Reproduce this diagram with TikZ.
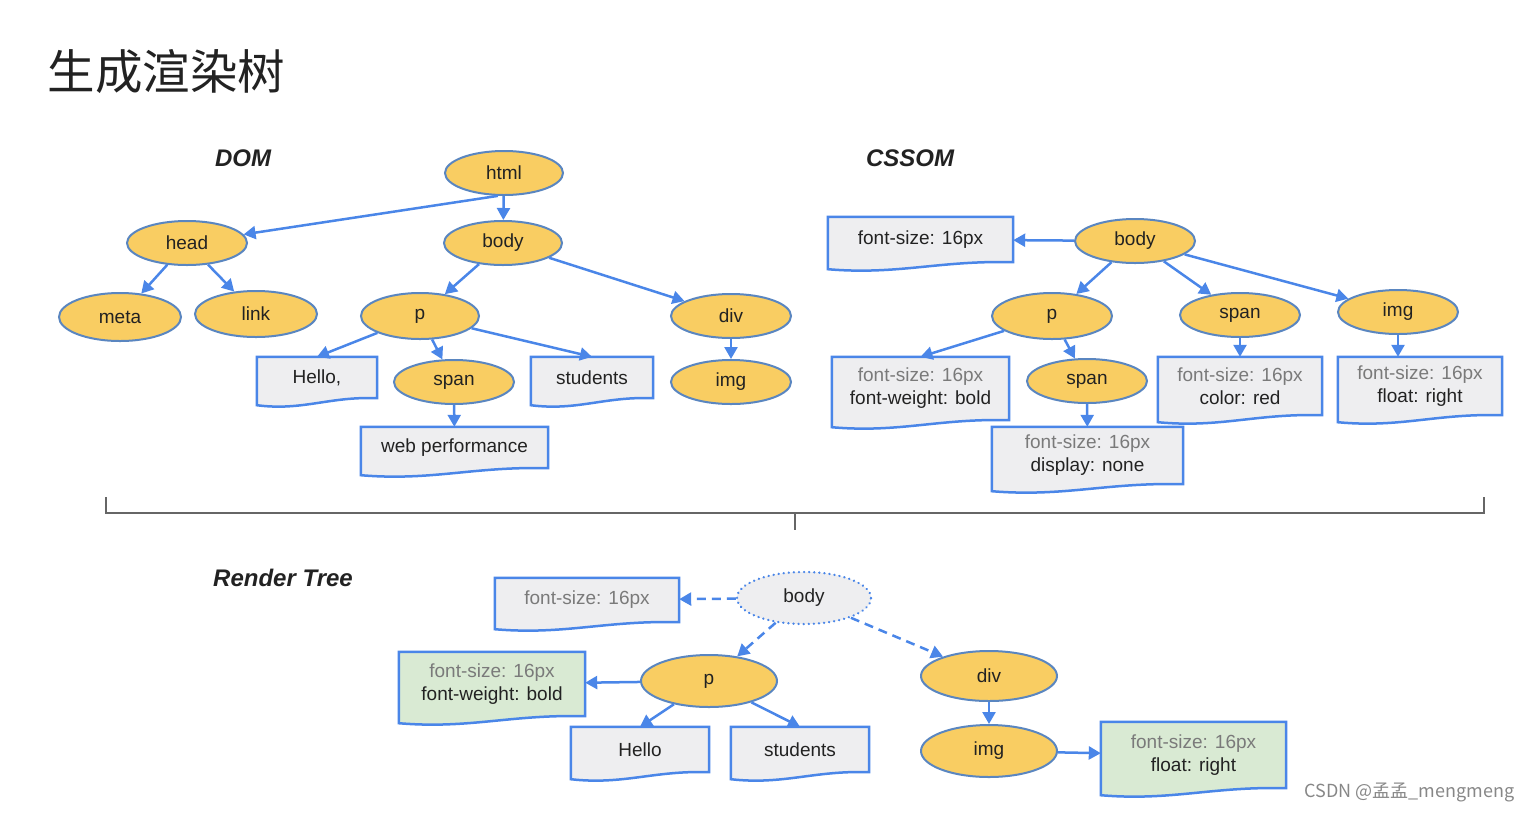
\documentclass[tikz,border=0pt]{standalone}
\usepackage{fontspec}
\setmainfont{Liberation Sans}
\newfontfamily\cjk{Noto Sans CJK SC}
\usetikzlibrary{shapes.geometric,arrows.meta,calc,backgrounds}
\definecolor{ellfill}{HTML}{F9CD62}
\definecolor{elldraw}{HTML}{5A86C0}
\definecolor{bluel}{HTML}{4A86E8}
\definecolor{boxfill}{HTML}{EEEEF0}
\definecolor{greenfill}{HTML}{D9EAD3}
\definecolor{txt}{HTML}{222222}
\definecolor{graytxt}{HTML}{7A7A7A}
\definecolor{bracecol}{HTML}{666666}
\newcommand\nfnt{\fontsize{19}{23}\selectfont}
\newcommand\docshape[2]{%
  \path[draw=bluel, line width=2.5pt, fill=#2, line join=miter]
    (#1.north west) -- (#1.north east) -- (#1.south east)
    .. controls ($(#1.south east)!0.4!(#1.south west)+(0,-2)$)
    and ($(#1.south east)!0.62!(#1.south west)+(0,13)$)
    .. ($(#1.south west)+(0,7)$) -- cycle;}
\tikzset{
  ell/.style={ellipse, draw=elldraw, fill=ellfill, line width=2pt, inner sep=0pt,
    minimum width=120pt, minimum height=44pt, font=\nfnt, text=txt},
  docbox/.style={rectangle, inner sep=0pt, font=\nfnt, text=txt, align=center},
  arr/.style={draw=bluel, line width=2.5pt, -{Triangle[length=12pt,width=13pt]}},
  darr/.style={arr, dash pattern=on 9pt off 6pt},
  sect/.style={font=\fontsize{24}{28}\selectfont\bfseries\itshape, text=txt},
  gl/.style={text=graytxt}
}
\begin{document}
\begin{tikzpicture}[x=1pt,y=-1pt]
\useasboundingbox (0,0) rectangle (1532,812);
% title
\node[anchor=west, font=\cjk\fontsize{47.5}{52}\selectfont, text=txt] (title) at (44,72) {生成渲染树};
% section labels
\node[sect] (ldom) at (243,158) {DOM};
\node[sect] (lcssom) at (910,158) {CSSOM};
\node[sect] (lrender) at (283,578) {Render Tree};

% ---------- DOM ----------
\node[ell, minimum width=118pt] (html) at (504,173) {html};
\node[ell] (head) at (187,243) {head};
\node[ell, minimum width=118pt] (body) at (503,243) {body};
\node[ell, minimum width=122pt, minimum height=48pt] (meta) at (120,317) {meta};
\node[ell, minimum width=122pt, minimum height=46pt] (link) at (256,314) {link};
\node[ell, minimum width=118pt, minimum height=46pt] (p) at (420,316) {p};
\node[ell] (div) at (731,316) {div};
\node[ell] (span) at (454,382) {span};
\node[ell] (img) at (731,382) {img};
\node[docbox, minimum width=120pt, minimum height=41pt] (hello) at (317,377.5) {Hello,};
\node[docbox, minimum width=122pt, minimum height=41pt] (students) at (592,377.5) {students};
\node[docbox, minimum width=187pt, minimum height=41pt] (web) at (454.5,447.5) {web performance};

% ---------- CSSOM ----------
\node[ell] (cbody) at (1135,241) {body};
\node[ell, minimum height=46pt] (cp) at (1052,316) {p};
\node[ell] (cspan) at (1240,315) {span};
\node[ell] (cimg) at (1398,312) {img};
\node[ell] (cspantwo) at (1087,381) {span};
\node[docbox, minimum width=185pt, minimum height=45pt] (cfs) at (920.5,239.5) {font-size: 16px};
\node[docbox, minimum width=177pt, minimum height=63pt] (cbold) at (920.5,388.5) {{\color{graytxt}font-size: 16px}\\font-weight: bold};
\node[docbox, minimum width=164pt, minimum height=58pt] (ccolor) at (1240,386) {{\color{graytxt}font-size: 16px}\\color: red};
\node[docbox, minimum width=164pt, minimum height=58pt] (cfloat) at (1420,386) {{\color{graytxt}font-size: 16px}\\float: right};
\node[docbox, minimum width=191pt, minimum height=57pt] (cdisp) at (1087.5,455.5) {{\color{graytxt}font-size: 16px}\\display: none};

% ---------- Render Tree ----------
\node[ellipse, draw=bluel, fill=boxfill, line width=2.5pt, dash pattern=on 0.1pt off 5pt, line cap=round,
      inner sep=0pt, minimum width=134pt, minimum height=52pt, font=\nfnt, text=txt] (rbody) at (804,598) {body};
\node[ell, minimum width=136pt, minimum height=52pt] (rp) at (709,681) {p};
\node[ell, minimum width=136pt, minimum height=50pt] (rdiv) at (989,676) {div};
\node[ell, minimum width=136pt, minimum height=52pt] (rimg) at (989,751) {img};
\node[docbox, minimum width=184pt, minimum height=44pt, text=graytxt] (rfs) at (587,600) {font-size: 16px};
\node[docbox, minimum width=186pt, minimum height=64pt] (rbold) at (492,684) {{\color{graytxt}font-size: 16px}\\font-weight: bold};
\node[docbox, minimum width=138pt, minimum height=45pt] (rhello) at (640,749.5) {Hello};
\node[docbox, minimum width=138pt, minimum height=45pt] (rstud) at (800,749.5) {students};
\node[docbox, minimum width=185pt, minimum height=66pt] (rfloat) at (1193.5,755) {{\color{graytxt}font-size: 16px}\\float: right};

% watermark
\node[anchor=east, font=\cjk\fontsize{18}{21}\selectfont, text=graytxt!90] (wm) at (1518,792) {CSDN @孟孟\_mengmeng};

% document shapes in background
\begin{pgfonlayer}{background}
\docshape{hello}{boxfill}
\docshape{students}{boxfill}
\docshape{web}{boxfill}
\docshape{cfs}{boxfill}
\docshape{cbold}{boxfill}
\docshape{ccolor}{boxfill}
\docshape{cfloat}{boxfill}
\docshape{cdisp}{boxfill}
\docshape{rfs}{boxfill}
\docshape{rbold}{greenfill}
\docshape{rhello}{boxfill}
\docshape{rstud}{boxfill}
\docshape{rfloat}{greenfill}
\end{pgfonlayer}

% ---------- DOM arrows ----------
\draw[arr] (html.255) -- (head);
\draw[arr] (html) -- (body);
\draw[arr] (head) -- (meta);
\draw[arr] (head) -- (link);
\draw[arr] (body) -- (p);
\draw[arr] (body) -- (div);
\draw[arr] (p) -- (hello.north);
\draw[arr] (p) -- (span);
\draw[arr] (p) -- (students.north);
\draw[arr] (span) -- (web);
\draw[arr] (div) -- (img);

% ---------- CSSOM arrows ----------
\draw[arr] (cbody) -- (cfs);
\draw[arr] (cbody) -- (cp);
\draw[arr] (cbody) -- (cspan);
\draw[arr] (cbody) -- (cimg);
\draw[arr] (cp) -- (cbold.north);
\draw[arr] (cp) -- (cspantwo);
\draw[arr] (cspan) -- (ccolor);
\draw[arr] (cimg) -- (cimg |- cfloat.north);
\draw[arr] (cspantwo) -- (cdisp);

% brace
\coordinate (bl) at (106,497);
\coordinate (br) at (1484,497);
\coordinate (bm) at (795,530);
\draw[bracecol, line width=2pt] (bl) -- (bl |- 0,513) -- (br |- 0,513) -- (br);
\draw[bracecol, line width=2pt] (bm |- 0,513) -- (bm);

% ---------- Render arrows ----------
\draw[darr] (rbody) -- (rfs);
\draw[darr] (rbody) -- (rp);
\draw[darr] (rbody) -- (rdiv);
\draw[arr] (rp) -- (rbold);
\draw[arr] (rp) -- (rhello.north);
\draw[arr] (rp) -- (rstud.north);
\draw[arr] (rdiv) -- (rimg);
\draw[arr] (rimg) -- (rfloat);
\end{tikzpicture}
\end{document}
